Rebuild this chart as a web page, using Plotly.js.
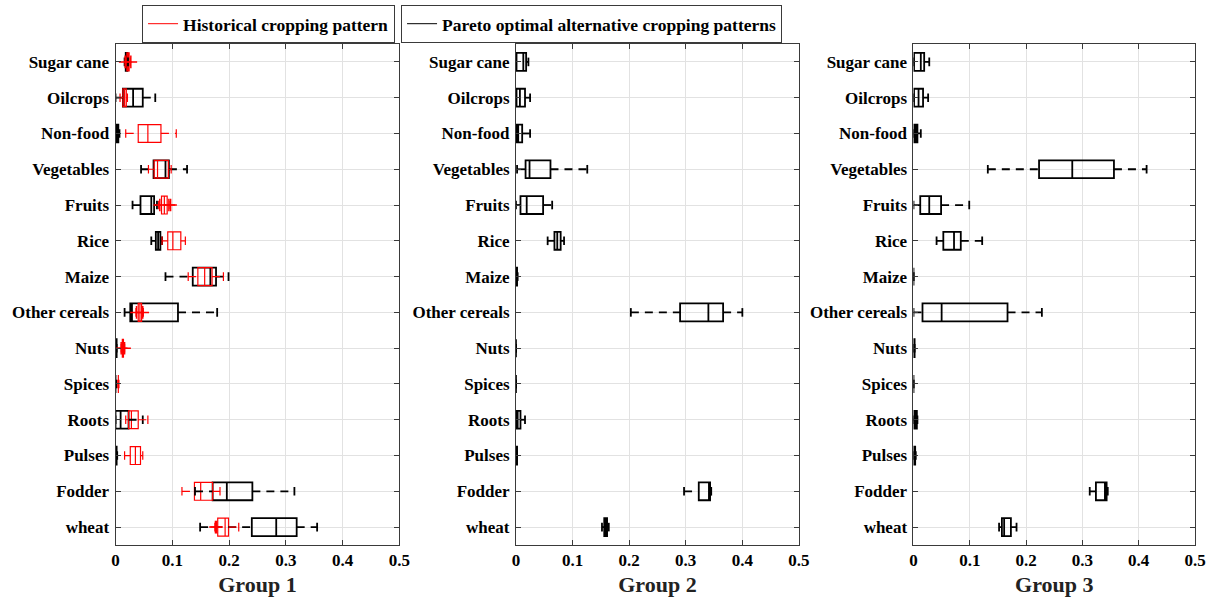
<!DOCTYPE html>
<html>
<head>
<meta charset="utf-8">
<script src="https://cdn.plot.ly/plotly-3.0.1.min.js"></script>
<style>
  html, body { margin: 0; padding: 0; background: #fff; }
  #chart { width: 1212px; height: 602px; }
</style>
</head>
<body>
<div id="chart"></div>
<script>
// Crop categories, top to bottom
const categories = ['Sugar cane', 'Oilcrops', 'Non-food', 'Vegetables', 'Fruits', 'Rice', 'Maize',
  'Other cereals', 'Nuts', 'Spices', 'Roots', 'Pulses', 'Fodder', 'wheat'];

const groupNames = ['Group 1', 'Group 2', 'Group 3'];

// Group 1 - historical cropping pattern (share of area)
const g1HistLow = [0.018, 0.008, 0.018, 0.058, 0.076, 0.082, 0.128, 0.036, 0.010, 0.004, 0.018, 0.016, 0.117, 0.175];
const g1HistQ1  = [0.020, 0.013, 0.040, 0.068, 0.081, 0.092, 0.145, 0.040, 0.012, 0.005, 0.023, 0.026, 0.139, 0.180];
const g1HistMed = [0.022, 0.016, 0.057, 0.074, 0.086, 0.101, 0.157, 0.043, 0.013, 0.005, 0.028, 0.035, 0.150, 0.193];
const g1HistQ3  = [0.024, 0.019, 0.080, 0.093, 0.091, 0.115, 0.170, 0.046, 0.014, 0.005, 0.040, 0.044, 0.171, 0.199];
const g1HistUp  = [0.026, 0.021, 0.107, 0.098, 0.096, 0.123, 0.190, 0.049, 0.016, 0.006, 0.057, 0.048, 0.184, 0.217];
// Group 1 - historical outliers
const g1HistOutCat = ['Sugar cane', 'Sugar cane', 'Fruits', 'Fruits', 'Fruits', 'Other cereals', 'Other cereals', 'Nuts', 'Nuts', 'wheat', 'wheat'];
const g1HistOutVal = [0.017, 0.027, 0.078, 0.094, 0.097, 0.037, 0.048, 0.010, 0.016, 0.176, 0.178];

// Group 1 - Pareto optimal alternatives
const g1ParLow = [0.016, 0.000, 0.000, 0.045, 0.030, 0.063, 0.088, 0.016, 0.000, 0.000, 0.000, 0.000, 0.140, 0.149];
const g1ParQ1  = [0.018, 0.013, 0.001, 0.067, 0.044, 0.071, 0.136, 0.026, 0.000, 0.000, 0.000, 0.000, 0.171, 0.240];
const g1ParMed = [0.019, 0.031, 0.003, 0.088, 0.063, 0.075, 0.167, 0.029, 0.001, 0.000, 0.009, 0.001, 0.196, 0.283];
const g1ParQ3  = [0.021, 0.048, 0.005, 0.094, 0.068, 0.079, 0.177, 0.110, 0.002, 0.000, 0.023, 0.002, 0.241, 0.319];
const g1ParUp  = [0.022, 0.070, 0.007, 0.126, 0.073, 0.082, 0.199, 0.179, 0.002, 0.001, 0.048, 0.003, 0.315, 0.355];

// Group 2 - Pareto optimal alternatives
const g2ParLow = [0.000, 0.000, 0.000, 0.002, 0.000, 0.056, 0.000, 0.203, 0.000, 0.000, 0.000, 0.000, 0.297, 0.152];
const g2ParQ1  = [0.001, 0.001, 0.001, 0.017, 0.008, 0.068, 0.000, 0.290, 0.000, 0.000, 0.001, 0.000, 0.323, 0.156];
const g2ParMed = [0.013, 0.007, 0.004, 0.024, 0.019, 0.073, 0.001, 0.340, 0.000, 0.000, 0.003, 0.001, 0.341, 0.158];
const g2ParQ3  = [0.018, 0.016, 0.011, 0.061, 0.048, 0.079, 0.002, 0.366, 0.000, 0.000, 0.008, 0.002, 0.343, 0.161];
const g2ParUp  = [0.022, 0.025, 0.025, 0.126, 0.064, 0.085, 0.003, 0.400, 0.000, 0.000, 0.016, 0.002, 0.345, 0.164];

// Group 3 - Pareto optimal alternatives
const g3ParLow = [0.000, 0.000, 0.000, 0.132, 0.000, 0.041, 0.000, 0.000, 0.000, 0.000, 0.000, 0.000, 0.313, 0.152];
const g3ParQ1  = [0.001, 0.001, 0.001, 0.223, 0.012, 0.053, 0.000, 0.016, 0.000, 0.000, 0.001, 0.000, 0.324, 0.157];
const g3ParMed = [0.013, 0.009, 0.004, 0.282, 0.028, 0.072, 0.000, 0.050, 0.001, 0.000, 0.003, 0.001, 0.340, 0.161];
const g3ParQ3  = [0.019, 0.017, 0.007, 0.356, 0.049, 0.084, 0.000, 0.167, 0.002, 0.000, 0.006, 0.003, 0.343, 0.173];
const g3ParUp  = [0.028, 0.026, 0.013, 0.414, 0.099, 0.122, 0.000, 0.228, 0.002, 0.000, 0.007, 0.004, 0.345, 0.183];

const legendNames = ['Historical cropping pattern', 'Pareto optimal alternative cropping patterns'];

// ---- styling ----
const FONT = 'Liberation Serif, Times New Roman, serif';
const RED = '#ff0000';
const BLACK = '#000000';
const BOX_W = 0.5;     // box thickness (category units)
const CAP = 0.12;      // half-height of whisker caps
const DASH = '8px,6px';

const pos = categories.map((_, i) => i);
const posOf = name => categories.indexOf(name);

function seriesTraces(ax, stats, color, lw, dash) {
  const [low, q1, med, q3, up] = stats;
  const xa = 'x' + (ax === 1 ? '' : ax), ya = 'y' + (ax === 1 ? '' : ax);
  const wx = [], wy = [], cx = [], cy = [];
  pos.forEach(i => {
    wx.push(low[i], q1[i], null, q3[i], up[i], null);
    wy.push(i, i, null, i, i, null);
    cx.push(low[i], low[i], null, up[i], up[i], null);
    cy.push(i - CAP, i + CAP, null, i - CAP, i + CAP, null);
  });
  return [
    { type: 'scatter', mode: 'lines', x: wx, y: wy, xaxis: xa, yaxis: ya,
      line: { color: color, width: lw, dash: dash }, showlegend: false, hoverinfo: 'skip' },
    { type: 'scatter', mode: 'lines', x: cx, y: cy, xaxis: xa, yaxis: ya,
      line: { color: color, width: lw }, showlegend: false, hoverinfo: 'skip' },
    { type: 'box', orientation: 'h', y: pos, q1: q1, median: med, q3: q3,
      lowerfence: q1, upperfence: q3, xaxis: xa, yaxis: ya, width: BOX_W,
      whiskerwidth: 0, boxpoints: false, fillcolor: 'rgba(0,0,0,0)',
      line: { color: color, width: lw }, showlegend: false, hoverinfo: 'skip' }
  ];
}

const traces = [];
traces.push(...seriesTraces(1, [g1ParLow, g1ParQ1, g1ParMed, g1ParQ3, g1ParUp], BLACK, 1.8, DASH));
traces.push(...seriesTraces(1, [g1HistLow, g1HistQ1, g1HistMed, g1HistQ3, g1HistUp], RED, 1.2, DASH));
traces.push({
  type: 'scatter', mode: 'markers', x: g1HistOutVal, y: g1HistOutCat.map(posOf),
  xaxis: 'x', yaxis: 'y', showlegend: false, hoverinfo: 'skip',
  marker: { symbol: 'cross-thin-open', size: 9, color: RED, line: { color: RED, width: 1.5 } }
});
traces.push(...seriesTraces(2, [g2ParLow, g2ParQ1, g2ParMed, g2ParQ3, g2ParUp], BLACK, 1.8, DASH));
traces.push(...seriesTraces(3, [g3ParLow, g3ParQ1, g3ParMed, g3ParQ3, g3ParUp], BLACK, 1.8, DASH));

// legend entries
traces.push({ type: 'scatter', mode: 'lines', x: [null], y: [null], name: legendNames[0],
  line: { color: RED, width: 1 }, legend: 'legend', hoverinfo: 'skip' });
traces.push({ type: 'scatter', mode: 'lines', x: [null], y: [null], name: legendNames[1],
  line: { color: BLACK, width: 1 }, legend: 'legend2', hoverinfo: 'skip' });

const tickFont = { family: FONT, size: 17, weight: 'bold', color: '#000' };
const domains = [[0.0953, 0.3296], [0.4257, 0.6592], [0.7537, 0.9860]];

function xAxis(k) {
  return {
    domain: domains[k], range: [0, 0.5], tick0: 0, dtick: 0.1, anchor: 'y' + (k ? k + 1 : ''),
    showgrid: true, gridcolor: '#e2e2e2', gridwidth: 1, zeroline: false,
    showline: true, linecolor: '#3a3a3a', linewidth: 1, mirror: 'ticks',
    ticks: 'inside', ticklen: 5, tickcolor: '#3a3a3a', tickfont: tickFont,
    automargin: false,
    title: { text: groupNames[k], font: { family: FONT, size: 22, weight: 'bold', color: '#222' }, standoff: 7 }
  };
}
function yAxis(k) {
  return {
    domain: [0.0947, 0.9269], range: [13.5, -0.5], anchor: 'x' + (k ? k + 1 : ''),
    tickmode: 'array', tickvals: pos, ticktext: categories,
    showgrid: true, gridcolor: '#e2e2e2', gridwidth: 1, zeroline: false,
    showline: true, linecolor: '#3a3a3a', linewidth: 1, mirror: 'ticks',
    ticks: 'inside', ticklen: 5, tickcolor: '#3a3a3a', tickfont: tickFont,
    automargin: false, ticklabelstandoff: 2
  };
}

const legendBase = {
  orientation: 'h', yanchor: 'top', xanchor: 'left', y: 0.992,
  bgcolor: '#ffffff', bordercolor: '#3a3a3a', borderwidth: 1,
  font: { family: FONT, size: 17.5, weight: 'bold', color: '#000' },
  itemwidth: 30, tracegroupgap: 0
};

const layout = {
  width: 1212, height: 602,
  margin: { l: 0, r: 0, t: 0, b: 0 },
  paper_bgcolor: '#fff', plot_bgcolor: '#fff',
  boxmode: 'overlay',
  showlegend: true,
  font: { family: FONT, color: '#000' },
  xaxis: xAxis(0), yaxis: yAxis(0),
  xaxis2: xAxis(1), yaxis2: yAxis(1),
  xaxis3: xAxis(2), yaxis3: yAxis(2),
  legend: Object.assign({}, legendBase, { x: 0.1172 }),
  legend2: Object.assign({}, legendBase, { x: 0.3309 })
};

Plotly.newPlot('chart', traces, layout, { displayModeBar: false, staticPlot: true });
</script>
</body>
</html>
